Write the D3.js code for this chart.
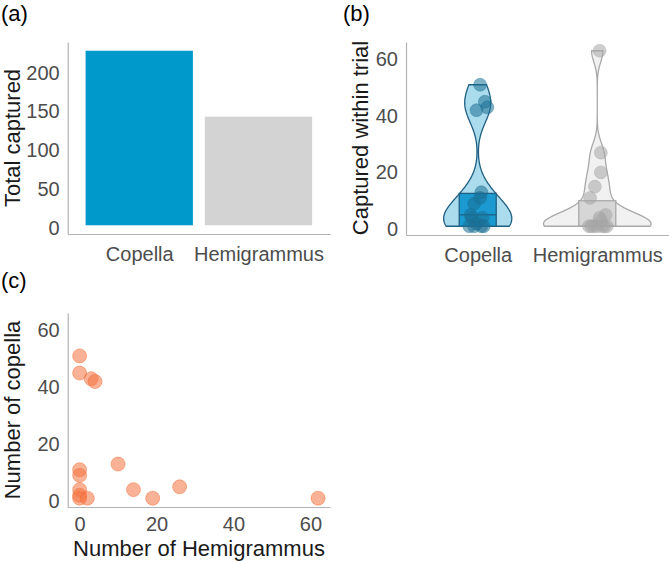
<!DOCTYPE html>
<html>
<head>
<meta charset="utf-8">
<script src="https://cdn.jsdelivr.net/npm/d3@7"></script>
<style>
	body { margin: 0; background: #fff; }
	svg { display: block; font-family: "Liberation Sans", Arial, sans-serif; }
	.tick text { fill: #4d4d4d; font-size: 20px; }
	.domain { stroke: #b3b3b3; stroke-width: 1.2px; }
	.title { fill: #1a1a1a; font-size: 22px; }
	.panel-label { fill: #000; font-size: 22px; }
</style>
</head>
<body>
<svg id="chart" width="669" height="561"></svg>
<script>
const groups = ["Copella", "Hemigrammus"];
const totals = [225, 140];
// one value per trial, same trial order in both arrays
const trialCopella = [50, 44, 42, 41, 12, 3, 0, 4, 0, 10, 8, 3, 1, 0, 0];
const trialHemigrammus = [0, 0, 3, 4, 10, 14, 19, 26, 62, 0, 0, 0, 0, 0, 2];
// box stats: [lower, median, upper]
const boxCopella = [0, 4, 11.6];
const boxHemigrammus = [0, 0, 9];
// horizontal jitter of the dots in panel (b), as share of category step
const jitterCopella = [0.02, 0.06, 0.08, -0.01, 0.03, -0.05, -0.03, -0.06, 0.03, 0.02, -0.03, 0.04, -0.01, -0.07, 0.05];
const jitterHemigrammus = [-0.05, 0.04, 0.02, 0.07, -0.06, -0.02, 0.03, 0.03, 0.02, -0.03, 0.06, 0, 0.08, -0.07, 0.03];
const bandwidths = [6, 4];
const totalTicks = [0, 50, 100, 150, 200];
const countTicks = [0, 20, 40, 60];

const svg = d3.select("#chart");

function styleAxis(g) {
	g.selectAll(".tick line").remove();
	g.select(".domain").attr("stroke", "#b3b3b3");
	g.selectAll(".tick text").attr("fill", "#4d4d4d").style("font-size", "20px");
}

function leftAxis(g, scale, ticks, x) {
	g.append("g")
		.attr("transform", `translate(${x},0)`)
		.call(d3.axisLeft(scale).tickValues(ticks).tickSize(0).tickPadding(8))
		.call(styleAxis)
		.selectAll(".tick text").attr("dy", "0.45em");
}

function bottomAxis(g, scale, ticks, y, pad) {
	const axis = d3.axisBottom(scale).tickSize(0).tickPadding(pad);
	if (ticks) axis.tickValues(ticks);
	g.append("g")
		.attr("transform", `translate(0,${y})`)
		.call(axis)
		.call(styleAxis);
}

function yTitle(text, x, yMid) {
	svg.append("text")
		.attr("class", "title")
		.attr("transform", `translate(${x},${yMid}) rotate(-90)`)
		.attr("text-anchor", "middle")
		.text(text);
}

// ---------- (a) totals ----------
const xA = d3.scalePoint().domain(groups).range([67.7, 330]).padding(0.6);
const yA = d3.scaleLinear().domain([-11.25, 236.25]).range([234, 42]);
const gA = svg.append("g");
const barW = xA.step() * 0.9;

gA.selectAll("rect")
	.data(groups)
	.enter()
	.append("rect")
	.attr("x", d => xA(d) - barW / 2)
	.attr("width", barW)
	.attr("y", (_, i) => yA(totals[i]))
	.attr("height", (_, i) => yA(0) - yA(totals[i]))
	.attr("fill", (_, i) => i === 0 ? "#0099cc" : "#d3d3d3");

leftAxis(gA, yA, totalTicks, 67.7);
bottomAxis(gA, xA, null, 234, 13);
yTitle("Total captured", 20, 138);
svg.append("text").attr("class", "panel-label").attr("x", 1).attr("y", 21).text("(a)");

// ---------- (b) per trial ----------
const xB = d3.scalePoint().domain(groups).range([406, 669]).padding(0.6);
const yB = d3.scaleLinear().domain([-3.1, 65.1]).range([235, 42]);
const gB = svg.append("g");

function kde(values, bw) {
	const lo = d3.min(values), hi = d3.max(values);
	const grid = d3.range(0, 201).map(i => lo + (hi - lo) * i / 200);
	return grid.map(v => [v, d3.mean(values, x => Math.exp(-0.5 * ((v - x) / bw) ** 2) / (bw * Math.sqrt(2 * Math.PI)))]);
}

const groupData = [
	{ name: "Copella", values: trialCopella, box: boxCopella, jitter: jitterCopella,
		violin: "#aadcee", line: "#1f5f80", boxFill: "#1a9ad0", dot: "#1b6f94" },
	{ name: "Hemigrammus", values: trialHemigrammus, box: boxHemigrammus, jitter: jitterHemigrammus,
		violin: "#f1f1f1", line: "#a9a9a9", boxFill: "#d6d6d6", dot: "#a6a6a6" }
];
groupData.forEach((g, i) => { g.density = kde(g.values, bandwidths[i]); });
const maxDensity = d3.max(groupData, g => d3.max(g.density, d => d[1]));
const wScale = d3.scaleLinear().domain([0, maxDensity]).range([0, xB.step() * 0.45]);

groupData.forEach(g => {
	const cx = xB(g.name);
	const area = d3.area()
		.y(d => yB(d[0]))
		.x0(d => cx - wScale(d[1]))
		.x1(d => cx + wScale(d[1]));
	gB.append("path")
		.attr("d", area(g.density))
		.attr("fill", g.violin)
		.attr("stroke", g.line)
		.attr("stroke-width", 1.3);

	const bw = 37;
	gB.append("rect")
		.attr("x", cx - bw / 2)
		.attr("width", bw)
		.attr("y", yB(g.box[2]))
		.attr("height", yB(g.box[0]) - yB(g.box[2]))
		.attr("fill", g.boxFill)
		.attr("stroke", g.line)
		.attr("stroke-width", 1.3);
	gB.append("line")
		.attr("x1", cx - bw / 2).attr("x2", cx + bw / 2)
		.attr("y1", yB(g.box[1])).attr("y2", yB(g.box[1]))
		.attr("stroke", g.line)
		.attr("stroke-width", 1.3);

	gB.append("g").selectAll("circle")
		.data(g.values)
		.enter()
		.append("circle")
		.attr("cx", (_, j) => cx + g.jitter[j] * xB.step())
		.attr("cy", d => yB(d))
		.attr("r", 6.5)
		.attr("fill", g.dot)
		.attr("fill-opacity", 0.55)
		.attr("stroke", g.dot)
		.attr("stroke-opacity", 0.35);
});

leftAxis(gB, yB, countTicks, 406);
bottomAxis(gB, xB, null, 235, 13);
yTitle("Captured within trial", 368, 138);
svg.append("text").attr("class", "panel-label").attr("x", 343).attr("y", 21).text("(b)");

// ---------- (c) scatter ----------
const xC = d3.scaleLinear().domain([-3.1, 65.1]).range([67.7, 330]);
const yC = d3.scaleLinear().domain([-3.1, 65.1]).range([507, 313]);
const gC = svg.append("g");

gC.selectAll("circle")
	.data(trialCopella)
	.enter()
	.append("circle")
	.attr("cx", (_, i) => xC(trialHemigrammus[i]))
	.attr("cy", d => yC(d))
	.attr("r", 7)
	.attr("fill", "#f4733f")
	.attr("fill-opacity", 0.55)
	.attr("stroke", "#f26a35")
	.attr("stroke-opacity", 0.45);

leftAxis(gC, yC, countTicks, 67.7);
bottomAxis(gC, xC, countTicks, 507, 10);
yTitle("Number of copella", 20, 410);
svg.append("text")
	.attr("class", "title")
	.attr("x", 199)
	.attr("y", 556)
	.attr("text-anchor", "middle")
	.text("Number of Hemigrammus");
svg.append("text").attr("class", "panel-label").attr("x", 1).attr("y", 288).text("(c)");
</script>
</body>
</html>
